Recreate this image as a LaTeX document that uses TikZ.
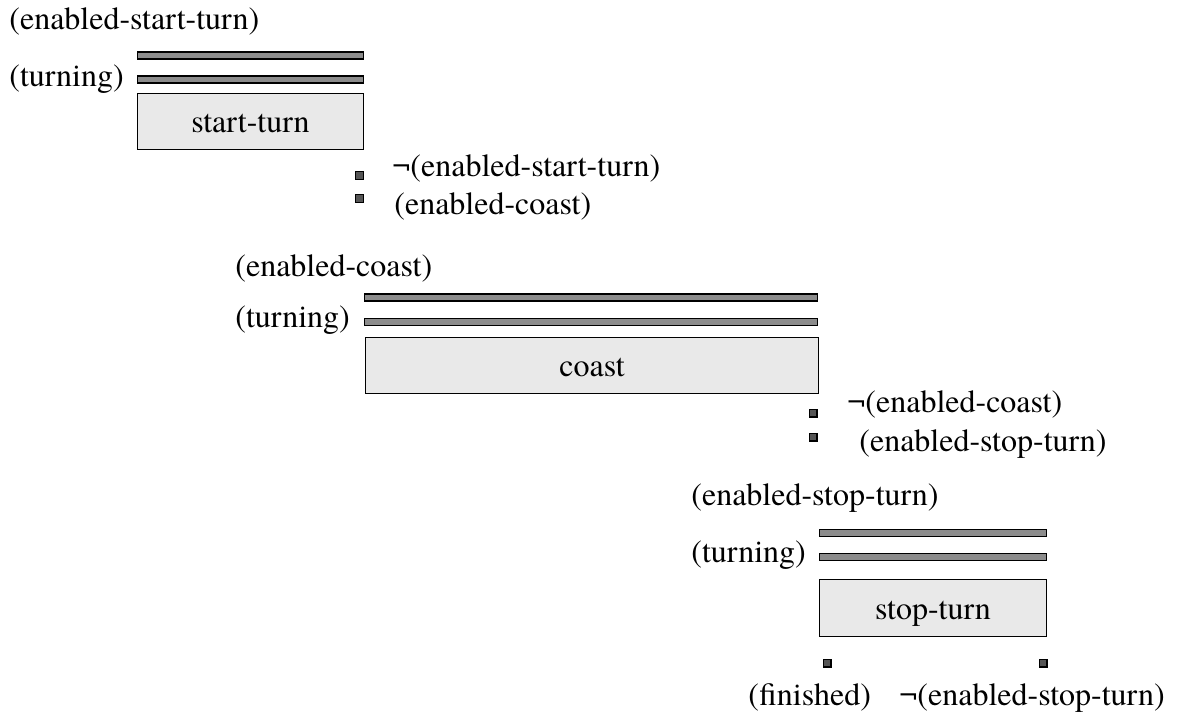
\documentclass[tikz,border=0pt]{standalone}
\usepackage{fontspec}
\setmainfont{TeX Gyre Termes}
\definecolor{barfill}{HTML}{8C8C8C}
\definecolor{boxfill}{HTML}{E9E9E9}
\definecolor{dotfill}{HTML}{555555}
\begin{document}
\begin{tikzpicture}[x=0.5pt,y=-0.5pt,
  lbl/.style={anchor=base west,inner sep=0pt,font=\fontsize{16}{19}\selectfont},
  bar/.style={draw=black,fill=barfill,line width=0.7pt,inner sep=0pt,minimum height=3.4pt},
  actbox/.style={draw=black,fill=boxfill,line width=0.7pt,inner sep=0pt,minimum height=27.8pt,
    font=\fontsize{16}{19}\selectfont,text height=11.2pt,text depth=0pt},
  eff/.style={draw=black,fill=dotfill,line width=0.6pt,inner sep=0pt,minimum size=3.9pt}]
\useasboundingbox (0,0) rectangle (1184,713);
% group 1: start-turn
\node[lbl] (g1pre1) at (9,29) {(enabled-start-turn)};
\node[lbl] (g1pre2) at (9,86) {(turning)};
\node[bar,minimum width=112.8pt] (g1bar1) at (250.5,55.5) {};
\node[bar,minimum width=112.8pt] (g1bar2) at (250.5,79.5) {};
\node[actbox,minimum width=112.8pt] (g1box) at (250.5,121.5) {start-turn};
\node[eff] (g1e1) at (359.5,175.5) {};
\node[eff] (g1e2) at (359.5,198.5) {};
\node[lbl] (g1eff1) at (392,176) {¬(enabled-start-turn)};
\node[lbl] (g1eff2) at (394,214) {(enabled-coast)};
% group 2: coast
\node[lbl] (g2pre1) at (235,276) {(enabled-coast)};
\node[lbl] (g2pre2) at (235,327) {(turning)};
\node[bar,minimum width=226.3pt] (g2bar1) at (591,297.5) {};
\node[bar,minimum width=226.3pt] (g2bar2) at (591,322) {};
\node[actbox,minimum width=226.3pt] (g2box) at (592,365.5) {coast};
\node[eff] (g2e1) at (813,413) {};
\node[eff] (g2e2) at (813,437) {};
\node[lbl] (g2eff1) at (847,412) {¬(enabled-coast)};
\node[lbl] (g2eff2) at (859,451) {(enabled-stop-turn)};
% group 3: stop-turn
\node[lbl] (g3pre1) at (691,505) {(enabled-stop-turn)};
\node[lbl] (g3pre2) at (691,562) {(turning)};
\node[bar,minimum width=113.3pt] (g3bar1) at (933,533) {};
\node[bar,minimum width=113.3pt] (g3bar2) at (933,557) {};
\node[actbox,minimum width=113.3pt,minimum height=28.3pt] (g3box) at (933,608) {stop-turn};
\node[eff] (g3e1) at (827,663) {};
\node[eff] (g3e2) at (1043,663) {};
\node[lbl] (g3eff1) at (748,705) {(finished)};
\node[lbl] (g3eff2) at (899,705) {¬(enabled-stop-turn)};
\end{tikzpicture}
\end{document}
